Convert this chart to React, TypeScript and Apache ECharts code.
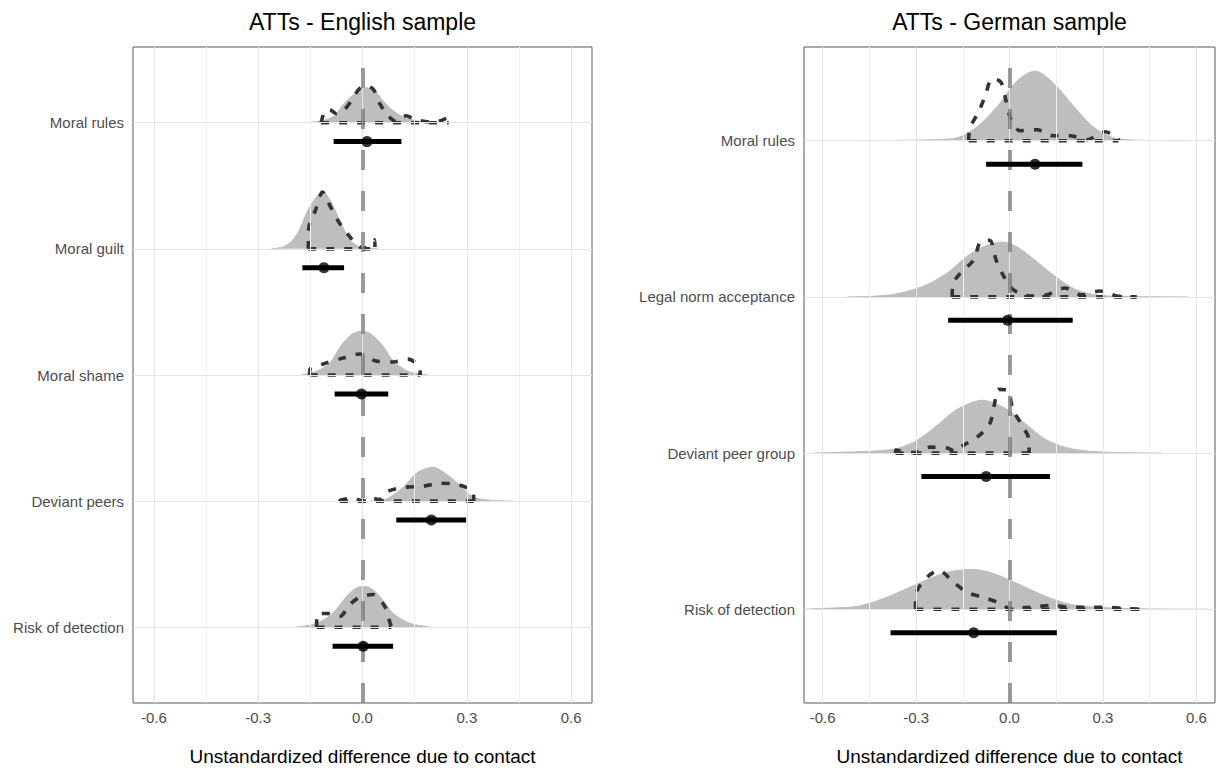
import React, { useEffect, useRef } from "react";
import * as echarts from "echarts";

const FONT = "'Liberation Sans', Arial, Helvetica, sans-serif";

const EN_TITLE = "ATTs - English sample";
const DE_TITLE = "ATTs - German sample";
const X_TITLE = "Unstandardized difference due to contact";

const EN_CATEGORIES = ["Moral rules", "Moral guilt", "Moral shame", "Deviant peers", "Risk of detection"];
const DE_CATEGORIES = ["Moral rules", "Legal norm acceptance", "Deviant peer group", "Risk of detection"];

const X_TICKS = [-0.6, -0.3, 0, 0.3, 0.6];
const X_MINOR = [-0.45, -0.15, 0.15, 0.45];

// point estimates and intervals (top-to-bottom category order)
const EN_ESTIMATE = [0.013, -0.111, -0.003, 0.198, 0.002];
const EN_LOWER = [-0.083, -0.173, -0.08, 0.097, -0.086];
const EN_UPPER = [0.112, -0.053, 0.074, 0.298, 0.088];

const DE_ESTIMATE = [0.082, -0.006, -0.075, -0.115];
const DE_LOWER = [-0.075, -0.197, -0.283, -0.382];
const DE_UPPER = [0.234, 0.203, 0.13, 0.152];

// density heights, in units of the distance between two categories
const EN_GRAY = [
  [[-0.195, 0], [-0.15, 0.004], [-0.115, 0.016], [-0.08, 0.055], [-0.056, 0.142], [-0.03, 0.213], [0, 0.268], [0.015, 0.276], [0.035, 0.253], [0.059, 0.174], [0.085, 0.103], [0.116, 0.047], [0.155, 0.016], [0.2, 0.004], [0.27, 0]],
  [[-0.262, 0], [-0.228, 0.016], [-0.2, 0.071], [-0.18, 0.158], [-0.166, 0.253], [-0.147, 0.355], [-0.125, 0.434], [-0.113, 0.45], [-0.095, 0.395], [-0.07, 0.253], [-0.05, 0.134], [-0.037, 0.071], [-0.015, 0.024], [0, 0.008], [0.045, 0]],
  [[-0.176, 0], [-0.13, 0.032], [-0.094, 0.095], [-0.075, 0.174], [-0.056, 0.253], [-0.03, 0.324], [-0.003, 0.347], [0.025, 0.324], [0.059, 0.229], [0.08, 0.142], [0.098, 0.087], [0.136, 0.024], [0.189, 0]],
  [[0.02, 0], [0.059, 0.008], [0.079, 0.032], [0.117, 0.11], [0.155, 0.221], [0.185, 0.26], [0.203, 0.268], [0.242, 0.213], [0.28, 0.126], [0.318, 0.032], [0.366, 0.008], [0.438, 0]],
  [[-0.195, 0], [-0.14, 0.024], [-0.1, 0.079], [-0.075, 0.142], [-0.041, 0.26], [-0.015, 0.316], [0.002, 0.324], [0.02, 0.316], [0.045, 0.26], [0.07, 0.174], [0.088, 0.11], [0.136, 0.032], [0.198, 0]],
];

const EN_DASHED = [
  [[-0.119, 0], [-0.108, 0.095], [-0.095, 0.103], [-0.075, 0.071], [-0.055, 0.095], [-0.032, 0.174], [-0.012, 0.26], [0.005, 0.292], [0.03, 0.268], [0.05, 0.15], [0.074, 0.055], [0.098, 0.008], [0.126, 0.055], [0.145, 0.032], [0.165, 0.016], [0.203, 0.004], [0.225, 0.016], [0.246, 0.039], [0.248, 0]],
  [[-0.156, 0], [-0.154, 0.174], [-0.135, 0.308], [-0.115, 0.45], [-0.096, 0.355], [-0.072, 0.229], [-0.043, 0.118], [-0.009, 0.016], [0.01, 0.008], [0.035, 0.071], [0.036, 0]],
  [[-0.152, 0], [-0.151, 0.047], [-0.113, 0.087], [-0.056, 0.134], [-0.008, 0.166], [0.04, 0.11], [0.088, 0.103], [0.131, 0.126], [0.165, 0.055], [0.166, 0]],
  [[-0.065, 0], [-0.064, 0.008], [-0.027, 0.024], [-0.003, 0.004], [0.026, 0.024], [0.05, 0.012], [0.074, 0.079], [0.122, 0.11], [0.174, 0.118], [0.222, 0.142], [0.27, 0.134], [0.318, 0.071], [0.32, 0]],
  [[-0.132, 0], [-0.131, 0.103], [-0.094, 0.11], [-0.065, 0.087], [-0.036, 0.182], [-0.008, 0.237], [0.03, 0.26], [0.064, 0.166], [0.078, 0.047], [0.083, 0]],
];

const DE_GRAY = [
  [[-0.472, 0], [-0.254, 0.006], [-0.168, 0.019], [-0.104, 0.089], [-0.04, 0.217], [0.024, 0.382], [0.082, 0.446], [0.141, 0.37], [0.205, 0.223], [0.269, 0.089], [0.333, 0.019], [0.418, 0.003], [0.572, 0]],
  [[-0.52, 0], [-0.381, 0.013], [-0.275, 0.07], [-0.2, 0.153], [-0.136, 0.261], [-0.08, 0.325], [-0.024, 0.351], [0.02, 0.325], [0.066, 0.261], [0.141, 0.14], [0.215, 0.045], [0.311, 0.006], [0.572, 0]],
  [[-0.63, 0], [-0.435, 0.013], [-0.36, 0.03], [-0.296, 0.083], [-0.232, 0.178], [-0.168, 0.28], [-0.088, 0.338], [-0.019, 0.293], [0.045, 0.198], [0.12, 0.083], [0.205, 0.025], [0.311, 0.006], [0.49, 0]],
  [[-0.66, 0], [-0.595, 0.006], [-0.488, 0.019], [-0.403, 0.07], [-0.328, 0.134], [-0.254, 0.198], [-0.19, 0.242], [-0.115, 0.255], [-0.051, 0.229], [0.024, 0.166], [0.109, 0.089], [0.194, 0.032], [0.28, 0.013], [0.418, 0.003], [0.64, 0]],
];

const DE_DASHED = [
  [[-0.131, 0], [-0.128, 0.076], [-0.099, 0.185], [-0.078, 0.287], [-0.056, 0.395], [-0.028, 0.376], [-0.011, 0.255], [0.004, 0.14], [0.034, 0.064], [0.088, 0.07], [0.141, 0.032], [0.194, 0.032], [0.248, 0.006], [0.306, 0.057], [0.349, 0.013], [0.35, 0]],
  [[-0.184, 0], [-0.183, 0.07], [-0.158, 0.153], [-0.115, 0.236], [-0.094, 0.351], [-0.064, 0.363], [-0.043, 0.236], [-0.019, 0.134], [0.013, 0.045], [0.066, 0.006], [0.12, 0.013], [0.178, 0.057], [0.232, 0.013], [0.29, 0.038], [0.344, 0.006], [0.408, 0]],
  [[-0.366, 0], [-0.365, 0.019], [-0.307, 0.003], [-0.254, 0.038], [-0.2, 0.032], [-0.175, 0.013], [-0.147, 0.051], [-0.104, 0.102], [-0.064, 0.185], [-0.049, 0.306], [-0.035, 0.408], [-0.006, 0.402], [0.011, 0.28], [0.04, 0.178], [0.062, 0.089], [0.063, 0]],
  [[-0.302, 0], [-0.301, 0.089], [-0.275, 0.185], [-0.227, 0.249], [-0.179, 0.172], [-0.136, 0.108], [-0.083, 0.076], [-0.03, 0.038], [0, 0.006], [0.07, 0.013], [0.141, 0.025], [0.19, 0.013], [0.25, 0.013], [0.31, 0.013], [0.37, 0.006], [0.418, 0]],
];

const INTERVAL_OFFSET = 0.15;

function buildPanel(
  g: number,
  cats: string[],
  gray: number[][][],
  dashed: number[][][],
  est: number[],
  lo: number[],
  hi: number[]
) {
  const n = cats.length;
  const bases = cats.map((_, i) => n - 1 - i);
  const series: any[] = [];
  const common = { xAxisIndex: g, yAxisIndex: g, silent: true, animation: false };

  series.push({
    ...common,
    type: "line",
    data: [],
    z: 1,
    markLine: {
      silent: true,
      animation: false,
      symbol: ["none", "none"],
      label: { show: false },
      data: [
        ...X_MINOR.map((v) => ({ xAxis: v, lineStyle: { color: "#f0f0f0", width: 1, type: "solid" } })),
        ...X_TICKS.map((v) => ({ xAxis: v, lineStyle: { color: "#e4e4e4", width: 1, type: "solid" } })),
        ...bases.map((b) => ({ yAxis: b, lineStyle: { color: "#e4e4e4", width: 1, type: "solid" } })),
      ],
    },
  });

  cats.forEach((_, i) => {
    const b = bases[i];
    series.push({
      ...common,
      type: "line",
      z: 2,
      smooth: 0.3,
      symbol: "none",
      data: gray[i].map(([x, h]) => [x, b + h]),
      lineStyle: { color: "#bdbdbd", width: 1 },
      areaStyle: { color: "#bebebe", opacity: 1, origin: b },
    });
  });

  series.push({
    ...common,
    type: "line",
    data: [],
    z: 3,
    markLine: {
      silent: true,
      animation: false,
      symbol: ["none", "none"],
      label: { show: false },
      data: [{ xAxis: 0 }],
      lineStyle: { color: "#7a7a7a", opacity: 0.75, width: 4, type: [20, 21] },
    },
  });

  cats.forEach((_, i) => {
    const b = bases[i];
    const d = dashed[i];
    const ls = { color: "#333333", width: 3.6, type: [8, 10], cap: "butt" };
    series.push({
      ...common,
      type: "line",
      z: 4,
      smooth: 0.3,
      symbol: "none",
      data: d.map(([x, h]) => [x, b + h]),
      lineStyle: ls,
    });
    series.push({
      ...common,
      type: "line",
      z: 4,
      symbol: "none",
      data: [
        [d[0][0], b],
        [d[d.length - 1][0], b],
      ],
      lineStyle: ls,
    });
    series.push({
      ...common,
      type: "line",
      z: 5,
      symbol: "none",
      data: [
        [lo[i], b - INTERVAL_OFFSET],
        [hi[i], b - INTERVAL_OFFSET],
      ],
      lineStyle: { color: "#000000", width: 5 },
    });
  });

  series.push({
    ...common,
    type: "scatter",
    z: 6,
    symbolSize: 11,
    itemStyle: { color: "#000000" },
    data: est.map((v, i) => [v, bases[i] - INTERVAL_OFFSET]),
  });

  const xAxis = {
    type: "value",
    gridIndex: g,
    min: -0.66,
    max: 0.66,
    axisLine: { show: false },
    splitLine: { show: false },
    axisTick: { show: true, customValues: X_TICKS, length: 4, lineStyle: { color: "#333333", width: 1 } },
    axisLabel: {
      customValues: X_TICKS,
      formatter: (v: number) => v.toFixed(1),
      color: "#4d4d4d",
      fontSize: 15,
      fontFamily: FONT,
      margin: 7,
    },
    name: X_TITLE,
    nameLocation: "middle",
    nameGap: 44,
    nameTextStyle: { color: "#000000", fontSize: 19, fontFamily: FONT },
  };

  const yAxis = {
    type: "value",
    gridIndex: g,
    min: -0.6,
    max: n - 1 + 0.6,
    axisLine: { show: false },
    splitLine: { show: false },
    axisTick: { show: true, customValues: bases, length: 4, lineStyle: { color: "#333333", width: 1 } },
    axisLabel: {
      customValues: bases,
      formatter: (v: number) => cats[n - 1 - Math.round(v)],
      color: "#4d4d4d",
      fontSize: 15,
      fontFamily: FONT,
      margin: 9,
    },
  };

  return { series, xAxis, yAxis };
}

export default function App() {
  const ref = useRef<HTMLDivElement>(null);

  useEffect(() => {
    if (!ref.current) return;
    const chart = echarts.init(ref.current, undefined, { renderer: "svg" });
    const en = buildPanel(0, EN_CATEGORIES, EN_GRAY, EN_DASHED, EN_ESTIMATE, EN_LOWER, EN_UPPER);
    const de = buildPanel(1, DE_CATEGORIES, DE_GRAY, DE_DASHED, DE_ESTIMATE, DE_LOWER, DE_UPPER);
    chart.setOption({
      animation: false,
      backgroundColor: "#ffffff",
      textStyle: { fontFamily: FONT },
      grid: [
        { left: 133, right: 624, top: 47, bottom: 65, show: true, borderColor: "#595959", borderWidth: 1, backgroundColor: "#ffffff" },
        { left: 804, right: 1, top: 47, bottom: 65, show: true, borderColor: "#595959", borderWidth: 1, backgroundColor: "#ffffff" },
      ],
      xAxis: [en.xAxis, de.xAxis],
      yAxis: [en.yAxis, de.yAxis],
      series: [...en.series, ...de.series],
      graphic: [
        {
          type: "text",
          x: 362.5,
          y: 22,
          style: { text: EN_TITLE, font: `23px ${FONT}`, fill: "#000000", textAlign: "center", textVerticalAlign: "middle" },
        },
        {
          type: "text",
          x: 1009.5,
          y: 22,
          style: { text: DE_TITLE, font: `23px ${FONT}`, fill: "#000000", textAlign: "center", textVerticalAlign: "middle" },
        },
      ],
    });
    return () => chart.dispose();
  }, []);

  return (
    <div
      ref={ref}
      style={{ position: "fixed", left: 0, top: 0, width: 1216, height: 771, background: "#ffffff" }}
    />
  );
}
